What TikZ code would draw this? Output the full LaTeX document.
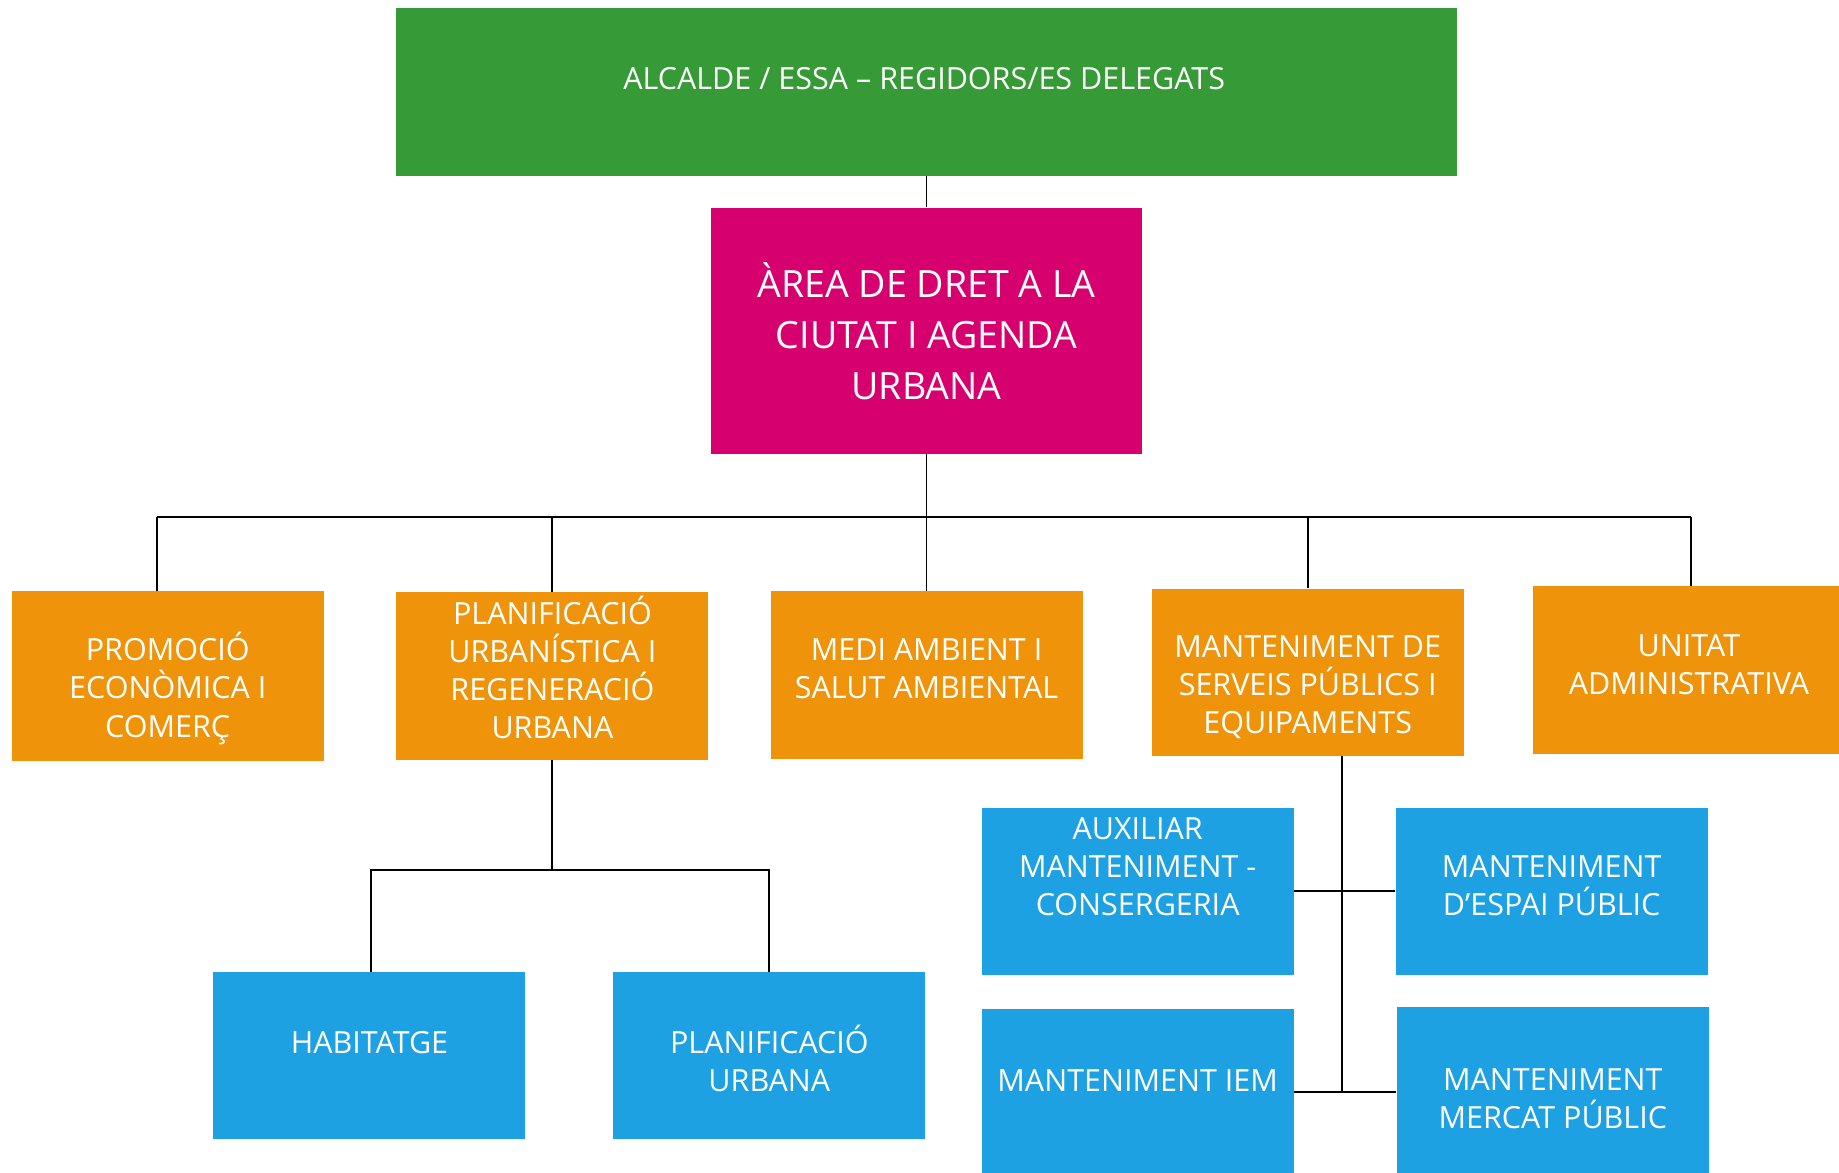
\documentclass[tikz,border=0pt]{standalone}
\usepackage{fontspec}
\setmainfont{Open Sans}
\definecolor{cgreen}{RGB}{54,155,54}
\definecolor{cpink}{RGB}{214,0,110}
\definecolor{corange}{RGB}{239,148,10}
\definecolor{cblue}{RGB}{29,161,226}
\begin{document}
\begin{tikzpicture}[x=0.5pt,y=-0.5pt,
  box/.style={rectangle,draw=none,inner sep=0pt,minimum width=133pt,minimum height=71.5pt},
  obox/.style={box,fill=corange},
  bbox/.style={box,fill=cblue},
  txt/.style={text=white,align=center,inner sep=0pt,font=\fontsize{13}{16.25}\selectfont},
  bigtxt/.style={text=white,align=center,inner sep=0pt,font=\fontsize{16}{21.75}\selectfont},
  conn/.style={draw=black,line width=0.8pt}]
\useasboundingbox (0,0) rectangle (1568,1000);
% boxes
\node[box,fill=cgreen,minimum width=452pt,minimum height=71.5pt] (green) at (790,78.5) {};
\node[box,fill=cpink,minimum width=184pt,minimum height=105pt] (pink) at (790,282) {};
\node[obox,minimum height=72.5pt] (b1) at (143,576.5) {};
\node[obox] (b2) at (471,576.5) {};
\node[obox] (b3) at (790,575.5) {};
\node[obox] (b4) at (1115.5,573.5) {};
\node[obox] (b5) at (1440,571.5) {};
\node[bbox,minimum height=71pt] (hab) at (315,900) {};
\node[bbox,minimum height=71pt] (pu) at (656,900) {};
\node[bbox,minimum height=71pt] (aux) at (970,760) {};
\node[bbox,minimum height=71pt] (esp) at (1323,760) {};
\node[bbox,minimum height=71pt] (iem) at (970,931) {};
\node[bbox,minimum height=71pt] (mer) at (1324,930) {};
% texts
\node[txt] (greent) at (788,67) {ALCALDE / ESSA – REGIDORS/ES DELEGATS};
\node[bigtxt] (pinkt) at (790,282.5) {ÀREA DE DRET A LA\\CIUTAT I AGENDA\\URBANA};
\node[txt] (b1t) at (143,587) {PROMOCIÓ\\ECONÒMICA I\\COMERÇ};
\node[txt] (b2t) at (471,569) {PLANIFICACIÓ\\URBANÍSTICA I\\REGENERACIÓ\\URBANA};
\node[txt] (b3t) at (790,570.5) {MEDI AMBIENT I\\SALUT AMBIENTAL};
\node[txt] (b4t) at (1115,586) {MANTENIMENT DE\\SERVEIS PÚBLICS I\\EQUIPAMENTS};
\node[txt] (b5t) at (1440,567) {UNITAT\\ADMINISTRATIVA};
\node[txt] (habt) at (315,889) {HABITATGE};
\node[txt] (put) at (656,902.5) {PLANIFICACIÓ\\URBANA};
\node[txt] (auxt) at (970,739) {AUXILIAR\\MANTENIMENT -\\CONSERGERIA};
\node[txt] (espt) at (1323,755) {MANTENIMENT\\D’ESPAI PÚBLIC};
\node[txt] (iemt) at (970,921) {MANTENIMENT IEM};
\node[txt] (mert) at (1324,937) {MANTENIMENT\\MERCAT PÚBLIC};
% connectors
\coordinate (j1) at (134,441);
\coordinate (j5) at (1442,441);
\coordinate (kL) at (316,742);
\coordinate (kR) at (656,742);
\coordinate (s1) at (1144,645);
\coordinate (s2) at (1144,931);
\draw[conn] (green.south) -- (pink.north);
\draw[conn] (pink.south) -- (b3.north);
\draw[conn] (j1) -- (j5);
\draw[conn] (j1) -- (j1 |- b1.north);
\draw[conn] (b2.north) -- (b2.north |- j1);
\draw[conn] (b4.north) -- (b4.north |- j1);
\draw[conn] (j5) -- (j5 |- b5.north);
\draw[conn] (b2.south) -- (b2.south |- kL);
\draw[conn] (kL |- hab.north) -- (kL) -- (kR) -- (kR |- pu.north);
\draw[conn] (s1) -- (s2);
\draw[conn] (aux.east) -- (esp.west);
\draw[conn] (iem.east |- s2) -- (mer.west |- s2);
\end{tikzpicture}
\end{document}
